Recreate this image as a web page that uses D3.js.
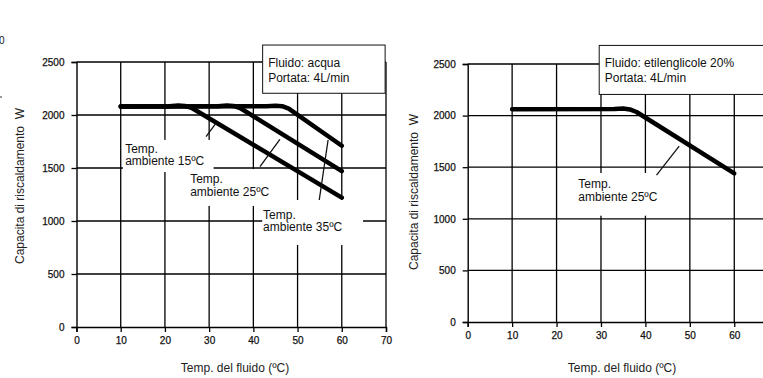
<!DOCTYPE html>
<html>
<head>
<meta charset="utf-8">
<script src="https://cdn.jsdelivr.net/npm/d3@7"></script>
<style>
  body { margin: 0; background: #fff; }
  svg { display: block; font-family: Arial, "Liberation Sans", sans-serif; }
</style>
</head>
<body>
<svg id="chart" width="763" height="378"></svg>
<script>
// axis ticks
const xTicksLeft = [0, 10, 20, 30, 40, 50, 60, 70]
const xTicksRight = [0, 10, 20, 30, 40, 50, 60]
const yTicks = [0, 500, 1000, 1500, 2000, 2500]

// left chart: acqua, 3 ambient temps  [temp fluido, W]
const acqua15 = [[10, 2080], [21, 2082], [23, 2090], [24.5, 2086], [26, 2068], [60, 1220]]
const acqua25 = [[10, 2080], [32, 2082], [34, 2090], [35.5, 2086], [37, 2066], [60, 1470]]
const acqua35 = [[10, 2080], [43, 2082], [45, 2088], [46.5, 2083], [48, 2060], [60, 1710]]

// right chart: etilenglicole 20%
const glicole25 = [[10, 2062], [33, 2063], [35, 2068], [36.5, 2060], [38, 2035], [60, 1440]]

const yTitle = 'Capacita di riscaldamento  W'
const xTitle = 'Temp. del fluido (ºC)'

// labels: box [x0,x1,y0,y1], text lines, leader [[x,y],[x,y]] (all in data units)
const leftLabels = [
    {box: [10.5, 31, 1765, 1462], at: [11, 1646], lines: ['Temp.', 'ambiente 15ºC'], leader: [[29.3, 1795], [31.6, 1925]]},
    {box: [24.5, 43.8, 1490, 1142], at: [25.7, 1358], lines: ['Temp.', 'ambiente 25ºC'], leader: [[41.5, 1512], [46.0, 1771]]},
    {box: [42, 64.8, 1198, 774], at: [42.2, 1019], lines: ['Temp.', 'ambiente 35ºC'], leader: [[54.9, 1198], [56.9, 1764]]}
]
const rightLabels = [
    {box: [23.5, 43.3, 1444, 1030], at: [24.9, 1298], lines: ['Temp.', 'ambiente 25ºC'], leader: [[42.5, 1424], [47.6, 1705]]}
]

const leftLegend = {box: [42.1, 69.8, 2660, 2205], lines: ['Fluido: acqua', 'Portata: 4L/min']}
const rightLegend = {box: [29.6, 70, 2680, 2205], lines: ['Fluido: etilenglicole 20%', 'Portata: 4L/min']}

let svg = d3.select('#chart')

// leftover bits of the neighbouring chart on the left edge
svg.append('text').attr('x', 4.5).attr('y', 44).attr('text-anchor', 'end')
   .style('font-size', '10px').attr('fill', '#111').text('0')
svg.append('line').attr('x1', 0).attr('x2', 2).attr('y1', 97).attr('y2', 97).attr('stroke', '#333')

let drawChart = (cfg) => {
    let x = d3.scaleLinear().domain([0, 70]).range(cfg.xRange)
    let y = d3.scaleLinear().domain([0, 2500]).range(cfg.yRange)
    let g = svg.append('g')

    // grid
    g.selectAll('.vg').data([10, 20, 30, 40, 50, 60, 70]).enter().append('line')
        .attr('x1', d => x(d)).attr('x2', d => x(d))
        .attr('y1', y(0)).attr('y2', y(2500))
        .attr('stroke', '#000').attr('stroke-width', 1.3)
    g.selectAll('.hg').data(yTicks.slice(1)).enter().append('line')
        .attr('x1', x(0)).attr('x2', x(70))
        .attr('y1', d => y(d)).attr('y2', d => y(d))
        .attr('stroke', '#000').attr('stroke-width', 1.3)

    // axes
    let ax = g.append('g').attr('transform', 'translate(0,' + y(0) + ')')
        .call(d3.axisBottom(x).tickValues(cfg.xTicks).tickSize(5).tickPadding(5).tickFormat(d3.format('d')))
    let ay = g.append('g').attr('transform', 'translate(' + x(0) + ',0)')
        .call(d3.axisLeft(y).tickValues(yTicks).tickSize(5).tickPadding(7).tickFormat(d3.format('d')))
    for (let a of [ax, ay]) {
        a.select('.domain').attr('stroke', '#000').attr('stroke-width', 1.4)
        a.selectAll('.tick line').attr('stroke', '#000').attr('stroke-width', 1.3)
        a.selectAll('.tick text').style('font-size', '10px').attr('fill', '#111')
            .attr('stroke', '#111').attr('stroke-width', 0.25)
            .style('font-family', 'Arial, "Liberation Sans", sans-serif')
    }

    // white label boxes hiding the grid
    for (let l of cfg.labels) {
        g.append('rect')
            .attr('x', x(l.box[0])).attr('y', y(l.box[2]))
            .attr('width', x(l.box[1]) - x(l.box[0])).attr('height', y(l.box[3]) - y(l.box[2]))
            .attr('fill', '#fff')
    }

    // legend box
    let lb = cfg.legend.box
    g.append('rect')
        .attr('x', x(lb[0])).attr('y', y(lb[2]))
        .attr('width', x(lb[1]) - x(lb[0])).attr('height', y(lb[3]) - y(lb[2]))
        .attr('fill', '#fff').attr('stroke', '#111').attr('stroke-width', 1)
    g.append('text').attr('x', x(lb[0]) + 5.5).attr('y', y(lb[2]) + 22)
        .style('font-size', '12px').attr('fill', '#111')
        .selectAll('tspan').data(cfg.legend.lines).enter().append('tspan')
        .attr('x', x(lb[0]) + 5.5).attr('dy', (d, i) => i ? 14.5 : 0).text(d => d)

    // curves
    let line = d3.line().x(d => x(d[0])).y(d => y(d[1]))
    for (let s of cfg.series) {
        g.append('path').datum(s).attr('d', line)
            .attr('fill', 'none').attr('stroke', '#000').attr('stroke-width', 4.5)
            .attr('stroke-linecap', 'round').attr('stroke-linejoin', 'round')
    }

    // leaders and labels
    for (let l of cfg.labels) {
        g.append('line')
            .attr('x1', x(l.leader[0][0])).attr('y1', y(l.leader[0][1]))
            .attr('x2', x(l.leader[1][0])).attr('y2', y(l.leader[1][1]))
            .attr('stroke', '#111').attr('stroke-width', 1.3)
        g.append('text').style('font-size', '12px').attr('fill', '#111')
            .selectAll('tspan').data(l.lines).enter().append('tspan')
            .attr('x', x(l.at[0])).attr('y', (d, i) => y(l.at[1]) + i * 12.5).text(d => d)
    }

    // axis titles
    g.append('text').attr('x', cfg.xTitle[0]).attr('y', cfg.xTitle[1]).attr('text-anchor', 'middle')
        .style('font-size', '12px').attr('fill', '#222').text(xTitle)
    g.append('text').attr('transform', 'translate(' + cfg.yTitle[0] + ',' + cfg.yTitle[1] + ') rotate(-90)')
        .attr('text-anchor', 'middle').attr('dy', '0.35em').attr('xml:space', 'preserve')
        .style('white-space', 'pre')
        .style('font-size', '12px').attr('fill', '#222').text(yTitle)
}

drawChart({xRange: [76.5, 386], yRange: [327, 62], xTicks: xTicksLeft, series: [acqua15, acqua25, acqua35],
           labels: leftLabels, legend: leftLegend, xTitle: [235, 372], yTitle: [20, 186]})
drawChart({xRange: [467.7, 778.7], yRange: [322, 64], xTicks: xTicksRight, series: [glicole25],
           labels: rightLabels, legend: rightLegend, xTitle: [622, 372], yTitle: [414, 192]})
</script>
</body>
</html>
